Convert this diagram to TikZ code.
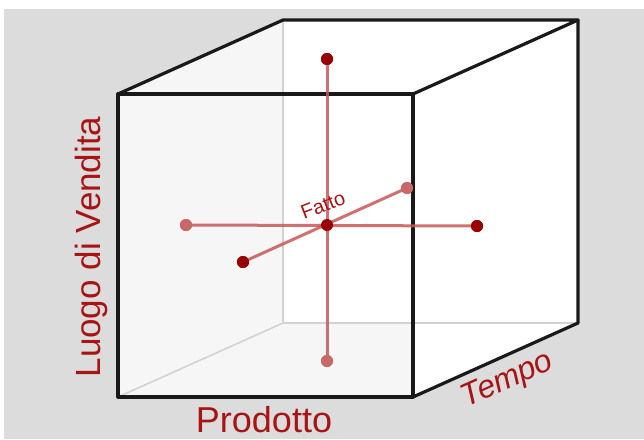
\documentclass[tikz,border=0pt]{standalone}
\usepackage{fontspec}
\setmainfont{Liberation Sans}
\definecolor{bg}{HTML}{DCDCDC}
\definecolor{wall}{HTML}{F6F6F6}
\definecolor{hid}{HTML}{D2D2D2}
\definecolor{lab}{HTML}{A81414}
\definecolor{dotd}{HTML}{990000}
\definecolor{dotl}{HTML}{C86868}
\definecolor{axis}{HTML}{C85858}
\begin{document}
\begin{tikzpicture}[x=1pt,y=-1pt,
  edge/.style={line width=3.2pt,line join=round,line cap=round,black!90},
  hidden/.style={line width=1.6pt,hid},
  axisline/.style={line width=3pt,axis,opacity=0.85},
  dark/.style={circle,fill=dotd,inner sep=0pt,minimum size=12pt},
  light/.style={circle,fill=dotl,inner sep=0pt,minimum size=12pt},
  label/.style={text=lab,inner sep=0pt}]
\useasboundingbox (0,0) rectangle (644,439);
\fill[white] (0,0) rectangle (644,439);
\fill[bg] (4,9) rectangle (644,439);
% cube corners
\coordinate (A) at (118,94);
\coordinate (B) at (413,94);
\coordinate (C) at (413,397);
\coordinate (D) at (118,397);
\coordinate (E) at (283,20);
\coordinate (F) at (578,20);
\coordinate (G) at (578,323);
\coordinate (H) at (283,323);
\coordinate (Hc) at (413,323);
% faces
\fill[white] (A) -- (E) -- (F) -- (G) -- (C) -- (D) -- cycle;
\fill[wall] (A) -- (E) -- (H) -- (D) -- cycle;
\fill[wall] (D) -- (H) -- (Hc) -- (C) -- cycle;
% hidden edges
\draw[hidden] (E) -- (H) -- (G);
\draw[hidden] (D) -- (H);
% visible edges
\draw[edge] (A) -- (B) -- (C) -- (D) -- cycle;
\draw[edge] (A) -- (E) -- (F) -- (B);
\draw[edge] (F) -- (G) -- (C);
% fact points
\node[dark]  (top)   at (327,59)  {};
\node[light] (bot)   at (327,361) {};
\node[light] (lft)   at (186,225) {};
\node[dark]  (rgt)   at (477,226) {};
\node[dark]  (near)  at (243,262) {};
\node[light] (far)   at (407,188) {};
\draw[axisline] (top.center) -- (bot.center);
\draw[axisline] (lft.center) -- (rgt.center);
\draw[axisline] (near.center) -- (far.center);
\node[dark]  (top2)  at (327,59)  {};
\node[light] (bot2)  at (327,361) {};
\node[light] (lft2)  at (186,225) {};
\node[dark]  (rgt2)  at (477,226) {};
\node[dark]  (near2) at (243,262) {};
\node[light] (far2)  at (407,188) {};
\node[dark]  (ctr)   at (327,225) {};
\node[label,rotate=21,font=\fontsize{20}{20}\selectfont] (fatto) at (323,205) {Fatto};
% labels
\node[label,rotate=90,anchor=base,font=\fontsize{35}{35}\selectfont] (luogo) at (100,247) {Luogo di Vendita};
\node[label,anchor=base,font=\fontsize{36}{36}\selectfont] (prod) at (264,432) {Prodotto};
\node[label,rotate=24,anchor=base,font=\itshape\fontsize{32}{32}\selectfont] (tempo) at (511,388) {Tempo};
\end{tikzpicture}
\end{document}
